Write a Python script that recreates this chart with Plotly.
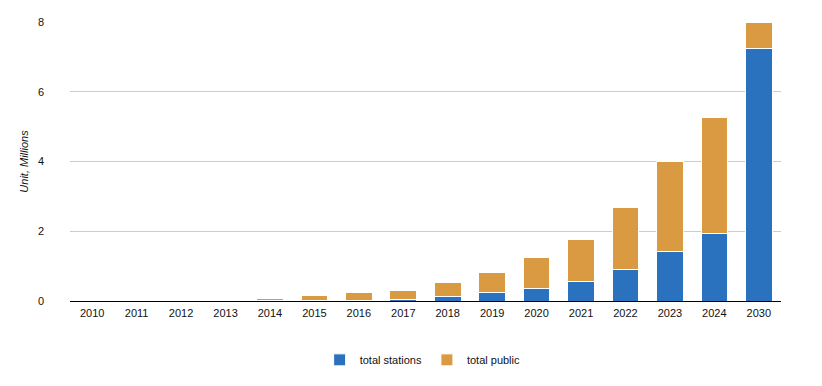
import plotly.graph_objects as go

years = ["2010", "2011", "2012", "2013", "2014", "2015", "2016", "2017",
         "2018", "2019", "2020", "2021", "2022", "2023", "2024", "2030"]
total_stations = [0.001, 0.002, 0.003, 0.005, 0.01, 0.01, 0.02, 0.03,
                  0.12, 0.24, 0.36, 0.55, 0.91, 1.42, 1.94, 7.23]
total_public = [0.002, 0.004, 0.018, 0.035, 0.075, 0.14, 0.22, 0.285,
                0.40, 0.59, 0.90, 1.20, 1.78, 2.59, 3.33, 0.77]

BLUE = "#2A72BD"
ORANGE = "#DA9A41"
TXT = "#111111"
FS = 11

fig = go.Figure()
fig.add_trace(go.Bar(x=years, y=total_stations, name="total stations",
                     marker=dict(color=BLUE, line=dict(color="white", width=1))))
fig.add_trace(go.Bar(x=years, y=total_public, name="total public",
                     marker=dict(color=ORANGE, line=dict(color="white", width=1))))

fig.update_layout(
    barmode="stack",
    bargap=0.4,
    width=822, height=386,
    margin=dict(l=62, r=49, t=14, b=93, autoexpand=False),
    plot_bgcolor="white", paper_bgcolor="white",
    font=dict(family="Liberation Sans, Arial, sans-serif", size=FS, color=TXT),
    showlegend=True,
    legend=dict(orientation="h", x=0.496, xanchor="center", y=-0.211, yanchor="middle",
                font=dict(size=FS, color=TXT), traceorder="normal"),
    xaxis=dict(showline=True, linecolor="black", linewidth=1, ticks="",
               automargin=False, ticklabelstandoff=2, tickfont=dict(size=FS, color=TXT)),
    yaxis=dict(range=[0, 8], dtick=2, showgrid=True, gridcolor="#cccccc",
               zeroline=False, ticks="", automargin=False, ticklabelstandoff=25,
               tickfont=dict(size=FS, color=TXT),
               title=dict(text="<i>Unit, Millions</i>", font=dict(size=FS, color=TXT),
                          standoff=7)),
)

fig.write_html("out.html")
